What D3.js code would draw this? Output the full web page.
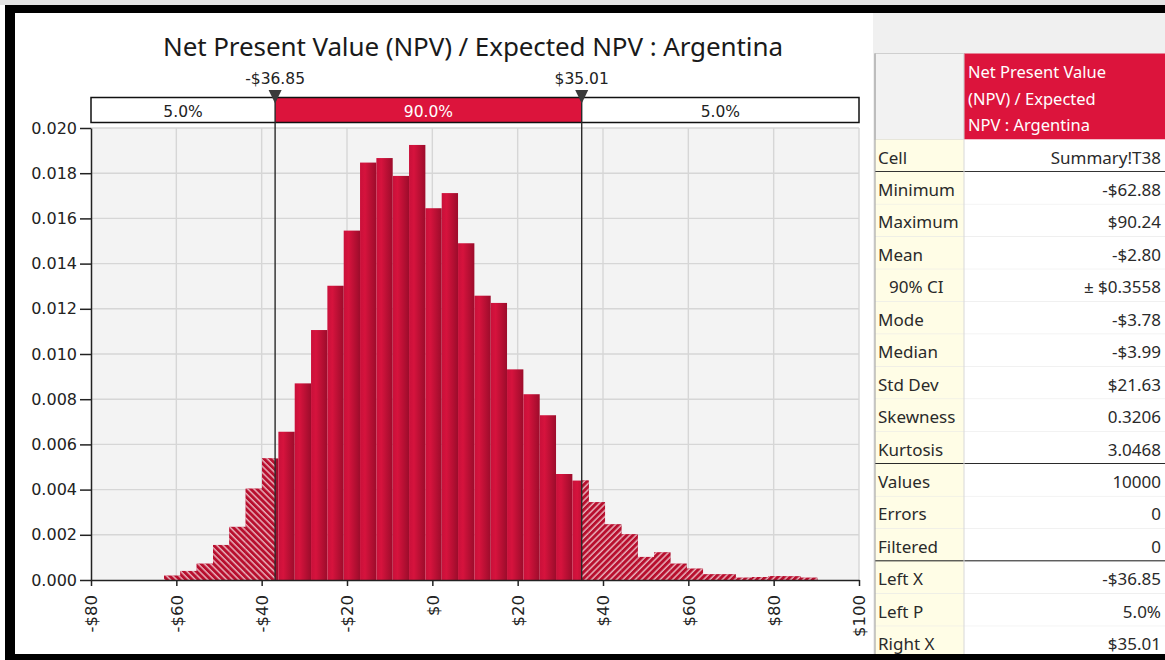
<!DOCTYPE html>
<html>
<head>
<meta charset="utf-8">
<script src="https://cdn.jsdelivr.net/npm/d3@7"></script>
<style>
  body { margin: 0; background: #ffffff; }
  svg { display: block; }
</style>
</head>
<body>
<svg id="chart" width="1165" height="660"></svg>
<script>
// ---- Simulation output: NPV / Expected NPV : Argentina ----
const title = "Net Present Value (NPV) / Expected NPV : Argentina";
const binMin = -62.88;          // first bin edge (minimum)
const binMax = 90.24;           // last bin edge (maximum)
// probability density of each of the 40 equal-width bins
const density = [
  0.00019, 0.00040, 0.00072, 0.00155, 0.00235, 0.00404, 0.00538, 0.00656,
  0.00870, 0.01106, 0.01302, 0.01546, 0.01847, 0.01867, 0.01788, 0.01925,
  0.01645, 0.01712, 0.01490, 0.01258, 0.01226, 0.00932, 0.00822, 0.00729,
  0.00469, 0.00440, 0.00344, 0.00246, 0.00202, 0.00102, 0.00122, 0.00072,
  0.00050, 0.00025, 0.00025, 0.00010, 0.00013, 0.00017, 0.00016, 0.00010
];
const leftX = -36.85;
const rightX = 35.01;
const markerLabels = ["-$36.85", "$35.01"];
const bandLabels = ["5.0%", "90.0%", "5.0%"];
const xTicks = [-80, -60, -40, -20, 0, 20, 40, 60, 80, 100];
const yTicks = [0, 0.002, 0.004, 0.006, 0.008, 0.010, 0.012, 0.014, 0.016, 0.018, 0.020];

// statistics panel
const headerLines = ["Net Present Value", "(NPV) / Expected", "NPV : Argentina"];
const statLabels = ["Cell", "Minimum", "Maximum", "Mean", "90% CI", "Mode", "Median",
  "Std Dev", "Skewness", "Kurtosis", "Values", "Errors", "Filtered", "Left X", "Left P", "Right X"];
const statValues = ["Summary!T38", "-$62.88", "$90.24", "-$2.80", "\u00B1 $0.3558", "-$3.78",
  "-$3.99", "$21.63", "0.3206", "3.0468", "10000", "0", "0", "-$36.85", "5.0%", "$35.01"];
const groupBreaks = ["Cell", "Kurtosis", "Filtered"];   // heavy rule below these rows

// ---- drawing ----
const svg = d3.select("#chart");
const RED = "#dc143c";
const tickFont = "'DejaVu Sans', sans-serif";
const uiFont = "'Noto Sans', 'Open Sans', sans-serif";

const plot = { left: 91, right: 859, top: 128, bottom: 580 };
const x = d3.scaleLinear().domain([-80, 100]).range([plot.left, plot.right]);
const y = d3.scaleLinear().domain([0, 0.02]).range([plot.bottom, plot.top]);

const defs = svg.append("defs");
const grad = defs.append("linearGradient").attr("id", "barFill")
  .attr("x1", "0").attr("x2", "1").attr("y1", "0").attr("y2", "0");
grad.append("stop").attr("offset", "0").attr("stop-color", "#c9103a");
grad.append("stop").attr("offset", "0.3").attr("stop-color", "#d6133d");
grad.append("stop").attr("offset", "1").attr("stop-color", "#9c0c2b");

function hatch(id, angle) {
  const p = defs.append("pattern").attr("id", id)
    .attr("patternUnits", "userSpaceOnUse")
    .attr("width", 4.4).attr("height", 4.4)
    .attr("patternTransform", `rotate(${angle})`);
  p.append("rect").attr("width", 4.4).attr("height", 4.4).attr("fill", "#b80f2e");
  p.append("line").attr("x1", 1).attr("x2", 1).attr("y1", 0).attr("y2", 4.4)
    .attr("stroke", "#ffffff").attr("stroke-opacity", 0.9).attr("stroke-width", 1.1);
}
hatch("hatchLeft", -45);
hatch("hatchRight", 45);

// outer frame and side panel
svg.append("rect").attr("x", 0).attr("y", 0).attr("width", 1165).attr("height", 5).attr("fill", "#e4e4e4");
svg.append("rect").attr("x", 873).attr("y", 13).attr("width", 292).attr("height", 641).attr("fill", "#f0f0f0");
svg.append("rect").attr("x", 5).attr("y", 5).attr("width", 1160).attr("height", 8).attr("fill", "#000");
svg.append("rect").attr("x", 5).attr("y", 5).attr("width", 10).attr("height", 655).attr("fill", "#000");

// title
svg.append("text")
  .attr("x", 473).attr("y", 56)
  .attr("text-anchor", "middle")
  .attr("font-family", uiFont).attr("font-size", 26)
  .attr("fill", "#1a1a1a")
  .attr("textLength", 620)
  .text(title);

// plot background + grid
svg.append("rect")
  .attr("x", plot.left).attr("y", plot.top)
  .attr("width", plot.right - plot.left).attr("height", plot.bottom - plot.top)
  .attr("fill", "#f3f3f3");
const grid = svg.append("g").attr("stroke", "#d6d6d6").attr("stroke-width", 1.4);
grid.selectAll("line.v").data(xTicks.slice(1)).join("line")
  .attr("x1", d => x(d)).attr("x2", d => x(d))
  .attr("y1", plot.top).attr("y2", plot.bottom);
grid.selectAll("line.h").data(yTicks.slice(1)).join("line")
  .attr("x1", plot.left).attr("x2", plot.right)
  .attr("y1", d => y(d)).attr("y2", d => y(d));

// histogram bins
const binWidth = (binMax - binMin) / density.length;
const bins = density.map((d, i) => ({ x0: binMin + i * binWidth, x1: binMin + (i + 1) * binWidth, d }));

svg.append("g").selectAll("rect").data(bins).join("rect")
  .attr("x", b => x(b.x0))
  .attr("width", b => x(b.x1) - x(b.x0))
  .attr("y", b => y(b.d))
  .attr("height", b => y(0) - y(b.d))
  .attr("fill", "url(#barFill)");

// hatched tails outside the 90% interval
const leftTail = bins.filter(b => b.x0 < leftX);
svg.append("g").selectAll("rect").data(leftTail).join("rect")
  .attr("x", b => x(b.x0))
  .attr("width", b => x(Math.min(b.x1, leftX)) - x(b.x0))
  .attr("y", b => y(b.d))
  .attr("height", b => y(0) - y(b.d))
  .attr("fill", "url(#hatchLeft)");
const rightTail = bins.filter(b => b.x1 > rightX);
svg.append("g").selectAll("rect").data(rightTail).join("rect")
  .attr("x", b => x(Math.max(b.x0, rightX)))
  .attr("width", b => x(b.x1) - x(Math.max(b.x0, rightX)))
  .attr("y", b => y(b.d))
  .attr("height", b => y(0) - y(b.d))
  .attr("fill", "url(#hatchRight)");

// axes
const yAxis = svg.append("g")
  .attr("transform", `translate(${plot.left},0)`)
  .call(d3.axisLeft(y).tickValues(yTicks).tickFormat(d3.format(".3f")).tickSize(11).tickSizeOuter(0).tickPadding(3));
yAxis.selectAll("text").attr("font-family", tickFont).attr("font-size", 16).attr("fill", "#222");
yAxis.selectAll("line, path").attr("stroke", "#222").attr("stroke-width", 1.5);

const money = d => (d < 0 ? "-$" + (-d) : "$" + d);
const xAxis = svg.append("g")
  .attr("transform", `translate(0,${plot.bottom})`)
  .call(d3.axisBottom(x).tickValues(xTicks).tickFormat(money).tickSize(6).tickSizeOuter(0));
xAxis.selectAll("line, path").attr("stroke", "#222").attr("stroke-width", 1.5);
xAxis.selectAll("text")
  .attr("font-family", tickFont).attr("font-size", 16.5).attr("fill", "#222")
  .attr("text-anchor", "end")
  .attr("transform", "translate(0,15) rotate(-90)")
  .attr("x", 0).attr("y", 0).attr("dy", "0.36em");

// probability band above the plot
const bandTop = 97.5, bandH = 25;
const edges = [-80, leftX, rightX, 100];
const band = svg.append("g");
band.selectAll("rect").data(bandLabels).join("rect")
  .attr("x", (d, i) => x(edges[i]))
  .attr("width", (d, i) => x(edges[i + 1]) - x(edges[i]))
  .attr("y", bandTop).attr("height", bandH)
  .attr("fill", (d, i) => (i === 1 ? RED : "#ffffff"));
band.selectAll("text").data(bandLabels).join("text")
  .attr("x", (d, i) => (x(edges[i]) + x(edges[i + 1])) / 2)
  .attr("y", bandTop + 19)
  .attr("text-anchor", "middle")
  .attr("font-family", tickFont).attr("font-size", 15.5)
  .attr("fill", (d, i) => (i === 1 ? "#ffffff" : "#222"))
  .text(d => d);
band.append("rect")
  .attr("x", x(-80)).attr("y", bandTop)
  .attr("width", x(100) - x(-80)).attr("height", bandH)
  .attr("fill", "none").attr("stroke", "#111").attr("stroke-width", 1.5);

// interval delimiters
const markers = [leftX, rightX];
const mk = svg.append("g");
mk.selectAll("line").data(markers).join("line")
  .attr("x1", d => x(d)).attr("x2", d => x(d))
  .attr("y1", bandTop).attr("y2", plot.bottom)
  .attr("stroke", "#2a2a2a").attr("stroke-width", 1.4);
mk.selectAll("path").data(markers).join("path")
  .attr("d", d => `M${x(d) - 6.5},90 L${x(d) + 6.5},90 L${x(d)},103.5 Z`)
  .attr("fill", "#3a3a3a");
mk.selectAll("text").data(markers).join("text")
  .attr("x", d => x(d)).attr("y", 84)
  .attr("text-anchor", "middle")
  .attr("font-family", tickFont).attr("font-size", 15.5).attr("fill", "#222")
  .text((d, i) => markerLabels[i]);

// statistics table
const tx0 = 875, tSplit = 964, tx1 = 1165, headTop = 53.5, headBottom = 139.5, rowH = 32.45;
const table = svg.append("g");
table.append("rect").attr("x", tx0).attr("y", headTop).attr("width", tSplit - tx0).attr("height", headBottom - headTop)
  .attr("fill", "#f2f2f2").attr("stroke", "#cfcfcf");
table.append("rect").attr("x", tSplit).attr("y", headTop).attr("width", tx1 - tSplit).attr("height", headBottom - headTop)
  .attr("fill", RED);
table.selectAll("text.head").data(headerLines).join("text")
  .attr("x", tSplit + 4).attr("y", (d, i) => 78 + i * 26.5)
  .attr("font-family", uiFont).attr("font-size", 16.5).attr("fill", "#ffffff")
  .text(d => d);

const rowTop = i => headBottom + i * rowH;
const rows = table.selectAll("g.row").data(statLabels).join("g");
rows.append("rect").attr("x", tx0).attr("y", (d, i) => rowTop(i)).attr("width", tSplit - tx0).attr("height", rowH)
  .attr("fill", "#fffde6");
rows.append("rect").attr("x", tSplit).attr("y", (d, i) => rowTop(i)).attr("width", tx1 - tSplit).attr("height", rowH)
  .attr("fill", "#ffffff");
rows.append("line")
  .attr("x1", tx0).attr("x2", tx1)
  .attr("y1", (d, i) => rowTop(i + 1)).attr("y2", (d, i) => rowTop(i + 1))
  .attr("stroke", d => (groupBreaks.includes(d) ? "#2a2a2a" : "#e6e6e6"))
  .attr("stroke-width", d => (groupBreaks.includes(d) ? 2 : 1));
rows.append("text")
  .attr("x", d => (d === "90% CI" ? tx0 + 14 : tx0 + 3))
  .attr("y", (d, i) => rowTop(i) + 24)
  .attr("font-family", uiFont).attr("font-size", 17).attr("fill", "#2a2a2a")
  .text(d => d);
rows.append("text")
  .attr("x", tx1 - 4)
  .attr("y", (d, i) => rowTop(i) + 24)
  .attr("text-anchor", "end")
  .attr("font-family", uiFont).attr("font-size", 17).attr("fill", "#2a2a2a")
  .text((d, i) => statValues[i]);
table.append("line").attr("x1", tSplit).attr("x2", tSplit).attr("y1", headTop).attr("y2", 654)
  .attr("stroke", "#d8d8d8");
table.append("line").attr("x1", tx0).attr("x2", tx0).attr("y1", headTop).attr("y2", 654)
  .attr("stroke", "#9a9a9a");

// bottom frame drawn last so the table runs under it
svg.append("rect").attr("x", 5).attr("y", 654).attr("width", 1160).attr("height", 6).attr("fill", "#000");
</script>
</body>
</html>
